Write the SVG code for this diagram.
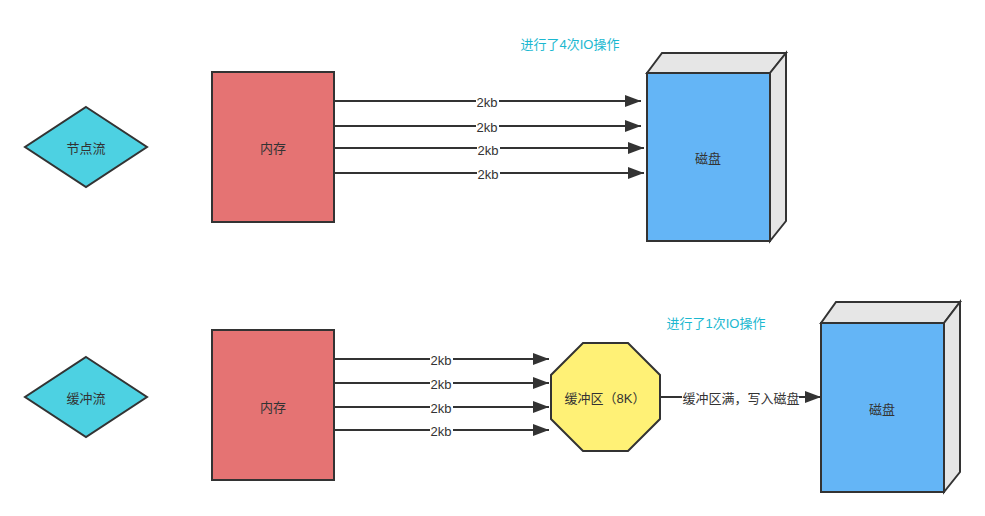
<svg xmlns="http://www.w3.org/2000/svg" width="985" height="516" viewBox="0 0 985 516">
<defs>
<marker id="ah" viewBox="0 0 16 12" refX="16" refY="6" markerWidth="16" markerHeight="12" markerUnits="userSpaceOnUse" orient="auto">
<path d="M0,0 L16,6 L0,12 Z" fill="#333"/>
</marker>
<style>
text{font-family:"Liberation Sans","Noto Sans CJK SC",sans-serif;font-size:13px;fill:#333;text-anchor:middle;dominant-baseline:central}
.s{stroke:#333;stroke-width:2}
.e{stroke:#333;stroke-width:2;fill:none;marker-end:url(#ah)}
.lb{fill:#fff}
.note{fill:#1BB8D0}
</style>
</defs>
<rect width="985" height="516" fill="#fff"/>
<g id="node-jiedian">
<polygon class="s" points="86,107 147,147 86,187 25,147" fill="#4DD1E2"/>
<text x="86" y="148">节点流</text>
</g>
<g id="node-mem1">
<rect class="s" x="212" y="72" width="122" height="150" fill="#E57373"/>
<text x="273" y="148">内存</text>
</g>
<g id="node-disk1">
<polygon class="s" points="647,73 662,53 786,53 770,73" fill="#E6E6E6"/>
<polygon class="s" points="770,73 786,53 786,221 770,241" fill="#E6E6E6"/>
<rect class="s" x="647" y="73" width="123" height="168" fill="#64B5F6"/>
<text x="708" y="158">磁盘</text>
</g>
<g id="node-huanchong">
<polygon class="s" points="86,357 147,397 86,437 25,397" fill="#4DD1E2"/>
<text x="86" y="398">缓冲流</text>
</g>
<g id="node-mem2">
<rect class="s" x="212" y="330" width="122" height="150" fill="#E57373"/>
<text x="273" y="407">内存</text>
</g>
<g id="node-buffer">
<polygon class="s" points="583,343 628,343 660,375 660,419 628,451 583,451 551,419 551,375" fill="#FFF176"/>
<text x="605" y="398">缓冲区（8K）</text>
</g>
<g id="node-disk2">
<polygon class="s" points="821,323 836,302 960,302 944,323" fill="#E6E6E6"/>
<polygon class="s" points="944,323 960,302 960,472 944,492" fill="#E6E6E6"/>
<rect class="s" x="821" y="323" width="123" height="169" fill="#64B5F6"/>
<text x="882" y="409">磁盘</text>
</g>
<g id="notes">
<text class="note" x="570" y="44">进行了4次IO操作</text>
<text class="note" x="716" y="323">进行了1次IO操作</text>
</g>
<g id="connectors">
<line class="e" x1="334" y1="101" x2="641" y2="101"/>
<line class="e" x1="334" y1="126" x2="641" y2="126"/>
<line class="e" x1="334" y1="148" x2="644" y2="148"/>
<line class="e" x1="334" y1="173" x2="644" y2="173"/>
<rect class="lb" x="476" y="95" width="23" height="13"/>
<text x="487" y="102">2kb</text>
<rect class="lb" x="476" y="120" width="23" height="13"/>
<text x="487" y="127">2kb</text>
<rect class="lb" x="477" y="143" width="23" height="13"/>
<text x="488" y="150">2kb</text>
<rect class="lb" x="477" y="167" width="23" height="13"/>
<text x="488" y="174">2kb</text>
<line class="e" x1="334" y1="359" x2="549" y2="359"/>
<line class="e" x1="334" y1="383" x2="549" y2="383"/>
<line class="e" x1="334" y1="407" x2="549" y2="407"/>
<line class="e" x1="334" y1="430" x2="549" y2="430"/>
<rect class="lb" x="430" y="353" width="23" height="13"/>
<text x="441" y="360">2kb</text>
<rect class="lb" x="430" y="377" width="23" height="13"/>
<text x="441" y="384">2kb</text>
<rect class="lb" x="430" y="401" width="23" height="13"/>
<text x="441" y="408">2kb</text>
<rect class="lb" x="430" y="424" width="23" height="13"/>
<text x="441" y="431">2kb</text>
<line class="e" x1="660" y1="397" x2="821" y2="397"/>
<rect class="lb" x="682" y="390" width="117" height="15"/>
<text x="741" y="398">缓冲区满，写入磁盘</text>
</g>
</svg>
